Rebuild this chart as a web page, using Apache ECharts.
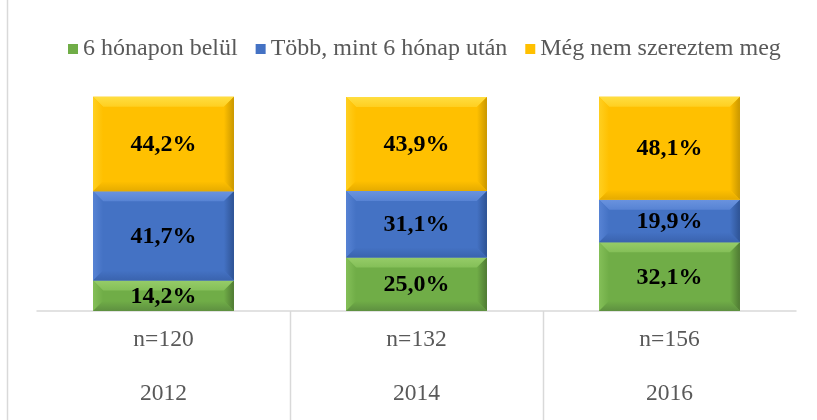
<!DOCTYPE html>
<html>
<head>
<meta charset="utf-8">
<script src="https://cdn.jsdelivr.net/npm/echarts@6/dist/echarts.min.js"></script>
<style>html,body{margin:0;padding:0;background:#fff;}#c{width:817px;height:420px;}</style>
</head>
<body>
<div id="c"></div>
<script>
const categories = ['2012', '2014', '2016'];
const sampleSizes = ['n=120', 'n=132', 'n=156'];
const seriesNames = ['6 hónapon belül', 'Több, mint 6 hónap után', 'Még nem szereztem meg'];
const within6 = [14.2, 25.0, 32.1];
const after6 = [41.7, 31.1, 19.9];
const notYet = [44.2, 43.9, 48.1];

const valueSets = [within6, after6, notYet];
const palette = [
  { base: '#70AD47', light: '#96CC68', lighter: '#84BF58', dark: '#4F7A33', darker: '#5E9040' },
  { base: '#4472C4', light: '#6A93DE', lighter: '#5783D4', dark: '#2E5394', darker: '#3A63AE' },
  { base: '#FFC000', light: '#FFDE40', lighter: '#FFCF20', dark: '#C99700', darker: '#E5AB00' }
];
const SERIF = '"Liberation Serif", "Times New Roman", serif';

function fmt(v) { return v.toFixed(1).replace('.', ',') + '%'; }

function bevelRender(si) {
  return function (params, api) {
    const cat = api.value(0), base = api.value(1), val = api.value(2);
    const p0 = api.coord([cat, base]);
    const p1 = api.coord([cat, base + val]);
    const band = api.size([1, 0])[0];
    const w = band * 0.557;
    const x = p0[0] - w / 2, x2 = p0[0] + w / 2;
    const yT = p1[1], yB = p0[1];
    const h = yB - yT;
    const b = Math.min(10, h / 2);
    const c = palette[si];
    const children = [
      { type: 'rect', shape: { x: x, y: yT, width: w, height: h }, style: { fill: c.base } },
      { type: 'polygon', shape: { points: [[x, yT], [x2, yT], [x2 - b, yT + b], [x + b, yT + b]] },
        style: { fill: new echarts.graphic.LinearGradient(0, 0, 0, 1, [{ offset: 0, color: c.light }, { offset: 1, color: c.lighter }]) } },
      { type: 'polygon', shape: { points: [[x, yT], [x + b, yT + b], [x + b, yB - b], [x, yB]] },
        style: { fill: new echarts.graphic.LinearGradient(0, 0, 1, 0, [{ offset: 0, color: c.lighter }, { offset: 1, color: c.base }]) } },
      { type: 'polygon', shape: { points: [[x2, yT], [x2, yB], [x2 - b, yB - b], [x2 - b, yT + b]] },
        style: { fill: new echarts.graphic.LinearGradient(0, 0, 1, 0, [{ offset: 0, color: c.base }, { offset: 1, color: c.dark }]) } },
      { type: 'polygon', shape: { points: [[x, yB], [x + b, yB - b], [x2 - b, yB - b], [x2, yB]] },
        style: { fill: new echarts.graphic.LinearGradient(0, 0, 0, 1, [{ offset: 0, color: c.base }, { offset: 1, color: c.darker }]) } },
      { type: 'text', style: { text: fmt(val), x: p0[0], y: (yT + yB) / 2 + 1, align: 'center', verticalAlign: 'middle',
        font: 'bold 24px ' + SERIF, fill: '#000' } }
    ];
    return { type: 'group', children: children };
  };
}

const series = valueSets.map(function (vals, si) {
  const data = vals.map(function (v, ci) {
    let base = 0;
    for (let k = 0; k < si; k++) base += valueSets[k][ci];
    return [ci, base, v];
  });
  return {
    type: 'custom', name: seriesNames[si], clip: false, silent: true,
    itemStyle: { color: palette[si].base },
    renderItem: bevelRender(si),
    encode: { x: 0, y: [1, 2] },
    data: data
  };
});

// separators of the category table below the axis
series.push({
  type: 'custom', name: 'sep', clip: false, silent: true,
  data: categories.slice(0, -1).map(function (_, i) { return [i]; }),
  encode: { x: 0 },
  renderItem: function (params, api) {
    const p = api.coord([api.value(0), 0]);
    const band = api.size([1, 0])[0];
    const xx = Math.round(p[0] + band / 2) + 0.5;
    return { type: 'line', shape: { x1: xx, y1: p[1], x2: xx, y2: api.getHeight() },
      style: { stroke: '#D9D9D9', lineWidth: 1.5 } };
  }
});

const chart = echarts.init(document.getElementById('c'), null, { renderer: 'canvas' });
chart.setOption({
  animation: false,
  backgroundColor: '#fff',
  graphic: [{ type: 'line', shape: { x1: 7.5, y1: 0, x2: 7.5, y2: 420 }, style: { stroke: '#D9D9D9', lineWidth: 1.5 } }],
  legend: {
    data: seriesNames.map(function (n) { return { name: n, icon: 'rect' }; }),
    top: 32, left: 63,
    itemWidth: 10, itemHeight: 10, itemGap: 18,
    textStyle: { fontFamily: SERIF, fontSize: 24, color: '#595959' }
  },
  grid: { left: 37, right: 21, top: 97, bottom: 109 },
  xAxis: {
    type: 'category', data: categories,
    axisLine: { lineStyle: { color: '#D9D9D9', width: 1.5 } },
    axisTick: { show: false },
    axisLabel: {
      margin: 15, fontFamily: SERIF, fontSize: 23.5, color: '#595959', lineHeight: 27,
      formatter: function (v, i) { return sampleSizes[i] + '\n\n' + v; }
    }
  },
  yAxis: { type: 'value', min: 0, max: 100, show: false, splitLine: { show: false } },
  series: series
});
</script>
</body>
</html>
